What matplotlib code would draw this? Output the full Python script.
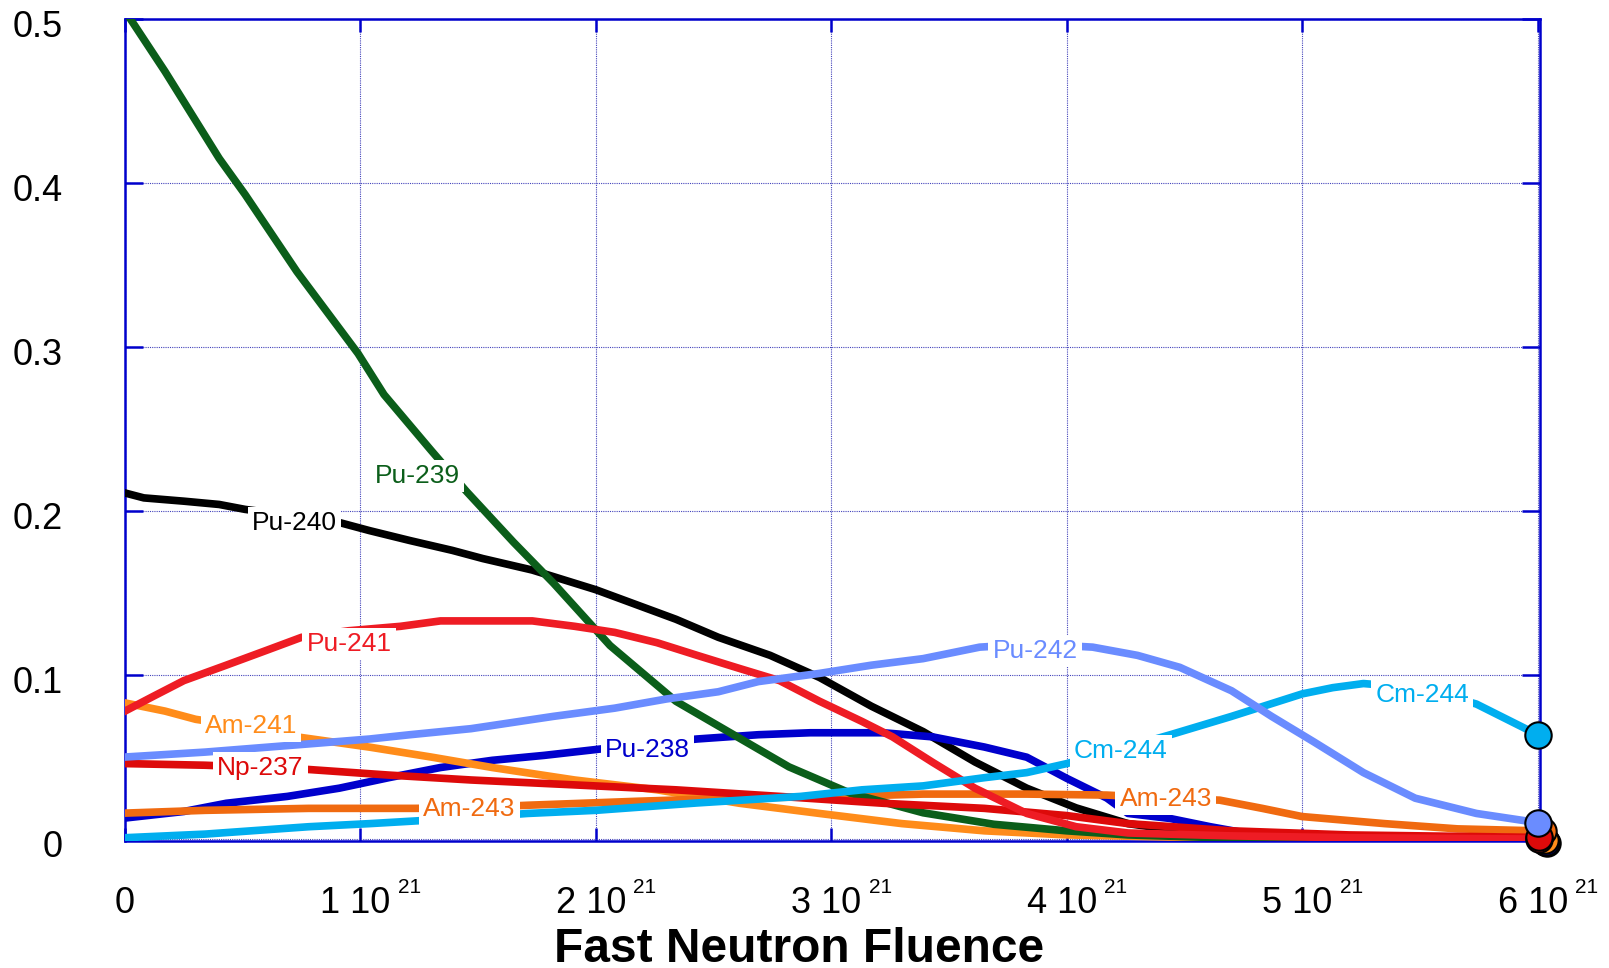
import numpy as np
import matplotlib.pyplot as plt
from matplotlib.transforms import ScaledTranslation

plt.rcParams['font.family'] = ['Liberation Sans', 'DejaVu Sans']

# fluence in units of 1e21
x_pu239 = [0.0, 0.17, 0.40, 0.51, 0.73, 0.99, 1.10, 1.30, 1.45, 1.65, 1.82, 2.06, 2.34, 2.52,
           2.82, 3.08, 3.39, 3.69, 4.00, 4.26, 4.60, 5.00, 5.50, 6.00]
y_pu239 = [0.505, 0.468, 0.415, 0.393, 0.346, 0.296, 0.271, 0.237, 0.212, 0.181, 0.156, 0.118,
           0.084, 0.069, 0.044, 0.028, 0.016, 0.009, 0.005, 0.0025, 0.001, 0.0005, 0.0002, 0.0]

x_pu240 = [0.0, 0.08, 0.25, 0.40, 0.51, 0.72, 0.91, 1.04, 1.21, 1.39, 1.52, 1.73, 2.00, 2.17,
           2.34, 2.52, 2.74, 2.95, 3.17, 3.39, 3.61, 3.83, 4.04, 4.26, 4.48, 4.70, 4.95, 5.50, 6.00]
y_pu240 = [0.211, 0.208, 0.206, 0.204, 0.201, 0.197, 0.193, 0.188, 0.182, 0.176, 0.171, 0.164,
           0.152, 0.143, 0.134, 0.123, 0.112, 0.0985, 0.081, 0.0655, 0.047, 0.031, 0.019, 0.0094,
           0.005, 0.0025, 0.001, 0.0003, 0.0]

x_pu241 = [0.0, 0.12, 0.25, 0.43, 0.60, 0.75, 0.95, 1.17, 1.34, 1.73, 1.91, 2.08, 2.26, 2.43,
           2.61, 2.78, 2.95, 3.13, 3.26, 3.43, 3.61, 3.83, 4.04, 4.26, 4.70, 5.20, 6.00]
y_pu241 = [0.078, 0.087, 0.0966, 0.106, 0.115, 0.123, 0.127, 0.1297, 0.133, 0.133, 0.1297, 0.126,
           0.1197, 0.112, 0.104, 0.0966, 0.084, 0.0717, 0.0623, 0.0468, 0.031, 0.0156, 0.0075,
           0.0037, 0.0019, 0.0008, 0.0]

x_pu242 = [0.0, 0.34, 0.78, 1.04, 1.21, 1.47, 1.82, 2.08, 2.30, 2.52, 2.69, 2.95, 3.17, 3.39,
           3.63, 3.86, 4.11, 4.30, 4.48, 4.70, 4.87, 5.05, 5.26, 5.48, 5.74, 6.00]
y_pu242 = [0.050, 0.053, 0.058, 0.061, 0.0636, 0.0673, 0.0748, 0.0798, 0.0854, 0.0898, 0.096,
           0.101, 0.106, 0.110, 0.117, 0.119, 0.117, 0.112, 0.1047, 0.0904, 0.0748, 0.0592,
           0.0405, 0.0249, 0.0156, 0.010]

x_cm244 = [0.0, 0.34, 0.78, 1.04, 1.23, 1.46, 1.71, 2.00, 2.43, 2.87, 3.13, 3.39, 3.65, 3.83,
           4.00, 4.23, 4.44, 4.70, 5.00, 5.13, 5.26, 5.50, 5.74, 6.00]
y_cm244 = [0.0008, 0.003, 0.0075, 0.0094, 0.011, 0.013, 0.0156, 0.0175, 0.022, 0.026, 0.030,
           0.0324, 0.0374, 0.0405, 0.046, 0.055, 0.0636, 0.0748, 0.0885, 0.0923, 0.0948, 0.092,
           0.0823, 0.0636]

x_pu238 = [0.0, 0.25, 0.43, 0.69, 0.91, 1.12, 1.34, 1.56, 1.78, 2.02, 2.22, 2.43, 2.69, 2.91,
           3.22, 3.43, 3.65, 3.83, 4.00, 4.17, 4.26, 4.44, 4.61, 4.78, 5.00, 5.50, 6.00]
y_pu238 = [0.0128, 0.0168, 0.0218, 0.026, 0.031, 0.0374, 0.0436, 0.048, 0.051, 0.0549, 0.058,
           0.061, 0.0636, 0.0648, 0.0648, 0.0623, 0.0561, 0.0499, 0.0370, 0.025, 0.0156, 0.0125,
           0.0075, 0.0031, 0.0012, 0.0003, 0.0]

x_np237 = [0.0, 0.34, 0.57, 0.78, 1.12, 1.47, 1.91, 2.34, 2.78, 3.22, 3.65, 4.00, 4.26, 4.70,
           5.20, 6.00]
y_np237 = [0.0460, 0.045, 0.0437, 0.0424, 0.039, 0.036, 0.033, 0.030, 0.026, 0.0218, 0.0187,
           0.0143, 0.0094, 0.005, 0.0025, 0.001]

x_am241 = [0.0, 0.17, 0.30, 0.53, 0.73, 1.04, 1.30, 1.56, 1.91, 2.26, 2.61, 2.95, 3.30, 3.65,
           4.00, 4.50, 6.00]
y_am241 = [0.083, 0.078, 0.073, 0.068, 0.0623, 0.056, 0.050, 0.0436, 0.036, 0.030, 0.0218,
           0.0156, 0.0094, 0.005, 0.0025, 0.001, 0.0]

x_am243 = [0.0, 0.34, 0.78, 1.23, 1.46, 1.71, 2.17, 2.61, 3.04, 3.39, 3.83, 4.17, 4.42, 4.65,
           4.83, 5.00, 5.35, 5.66, 6.00]
y_am243 = [0.0158, 0.0175, 0.0187, 0.0187, 0.019, 0.0206, 0.023, 0.025, 0.026, 0.0274, 0.0274,
           0.0268, 0.025, 0.0237, 0.0187, 0.0137, 0.0094, 0.0062, 0.005]

# curve labels: (text, x, y, colour)
labels = [
    ("Pu-239", 1.241, 0.2213, '#0b5e1a'),
    ("Pu-240", 0.72, 0.1927, '#000000'),
    ("Pu-241", 0.952, 0.119, '#ee1c24'),
    ("Pu-242", 3.865, 0.1146, '#6a8cff'),
    ("Cm-244", 5.51, 0.0878, '#00aeef'),
    ("Am-241", 0.535, 0.0689, '#ff8c1a'),
    ("Cm-244", 4.23, 0.0537, '#00aeef'),
    ("Pu-238", 2.22, 0.0543, '#0000cc'),
    ("Np-237", 0.574, 0.0433, '#dd0a0a'),
    ("Am-243", 1.462, 0.0183, '#f06a10'),
    ("Am-243", 4.42, 0.0244, '#f06a10'),
]

xticks = [0, 1, 2, 3, 4, 5, 6]
yticks = [0, 0.1, 0.2, 0.3, 0.4, 0.5]
ytick_labels = ["0", "0.1", "0.2", "0.3", "0.4", "0.5"]

fig = plt.figure(figsize=(16.09, 9.68), dpi=100)
ax = fig.add_axes([125/1609, 1-841/968, (1540-125)/1609, (841-19)/968])

axblue = '#0000cc'
series = {
    'Pu-240': (x_pu240, y_pu240, '#000000'),
    'Pu-238': (x_pu238, y_pu238, '#0000cc'),
    'Am-241': (x_am241, y_am241, '#ff8c1a'),
    'Am-243': (x_am243, y_am243, '#f06a10'),
    'Pu-239': (x_pu239, y_pu239, '#0b5e1a'),
    'Np-237': (x_np237, y_np237, '#dd0a0a'),
    'Pu-241': (x_pu241, y_pu241, '#ee1c24'),
    'Cm-244': (x_cm244, y_cm244, '#00aeef'),
    'Pu-242': (x_pu242, y_pu242, '#6a8cff'),
}
for xs, ys, c in series.values():
    ax.plot(xs, ys, color=c, lw=5.5, solid_joinstyle='round', zorder=3)

# end markers, slightly staggered like the original (offsets in points)
marker_offs = [('Pu-239', 5, -2), ('Pu-240', 7, -3), ('Pu-238', 6, -2), ('Am-241', 5, -1),
               ('Am-243', 4, 0), ('Pu-241', 1, 0), ('Np-237', 1, 0), ('Pu-242', 0, 0),
               ('Cm-244', 0, 0)]
for name, dx, dy in marker_offs:
    xs, ys, c = series[name]
    tr = ax.transData + ScaledTranslation(dx/72, dy/72, fig.dpi_scale_trans)
    ax.plot([xs[-1]], [ys[-1]], 'o', ms=19, mfc=c, mec='black', mew=1.5,
            transform=tr, clip_on=False, zorder=6)

for t, lx, ly, c in labels:
    ax.text(lx, ly, t, color=c, fontsize=19, ha='center', va='center', zorder=5,
            bbox=dict(facecolor='white', edgecolor='none', pad=3))

ax.set_xlim(0, 6.01)
ax.set_ylim(-0.0012, 0.5)
ax.set_xticks(xticks)
ax.set_yticks(yticks)
ax.grid(True, color='#4444bb', lw=0.8, linestyle=(0, (1, 1)))
ax.tick_params(direction='in', top=True, right=True, color=axblue, width=1.8,
               labelbottom=False, labelleft=False)
ax.tick_params(axis='x', length=9.5)
ax.tick_params(axis='y', length=13)
for s in ax.spines.values():
    s.set_color(axblue)
    s.set_linewidth(1.8)
ax.set_axisbelow(True)

# tick labels
for v in xticks:
    main = "0" if v == 0 else "%d 10" % v
    ax.annotate(main, xy=(v, 0), xycoords=('data', 'axes fraction'),
                xytext=(0 if v == 0 else -3.6, -51.8),
                textcoords='offset points', ha='center', va='baseline', fontsize=26,
                annotation_clip=False)
    if v != 0:
        ax.annotate("21", xy=(v, 0), xycoords=('data', 'axes fraction'), xytext=(27, -37.4),
                    textcoords='offset points', ha='left', va='baseline', fontsize=15,
                    annotation_clip=False)
for v, t in zip(yticks, ytick_labels):
    ax.annotate(t, xy=(0, v), xycoords=('axes fraction', 'data'), xytext=(-45, -6),
                textcoords='offset points', ha='right', va='center', fontsize=26,
                annotation_clip=False)

fig.text(799/1609, 1-962/968, "Fast Neutron Fluence", ha='center', va='baseline',
         fontsize=34.5, fontweight='bold')

fig.savefig('out.png', dpi=100)
